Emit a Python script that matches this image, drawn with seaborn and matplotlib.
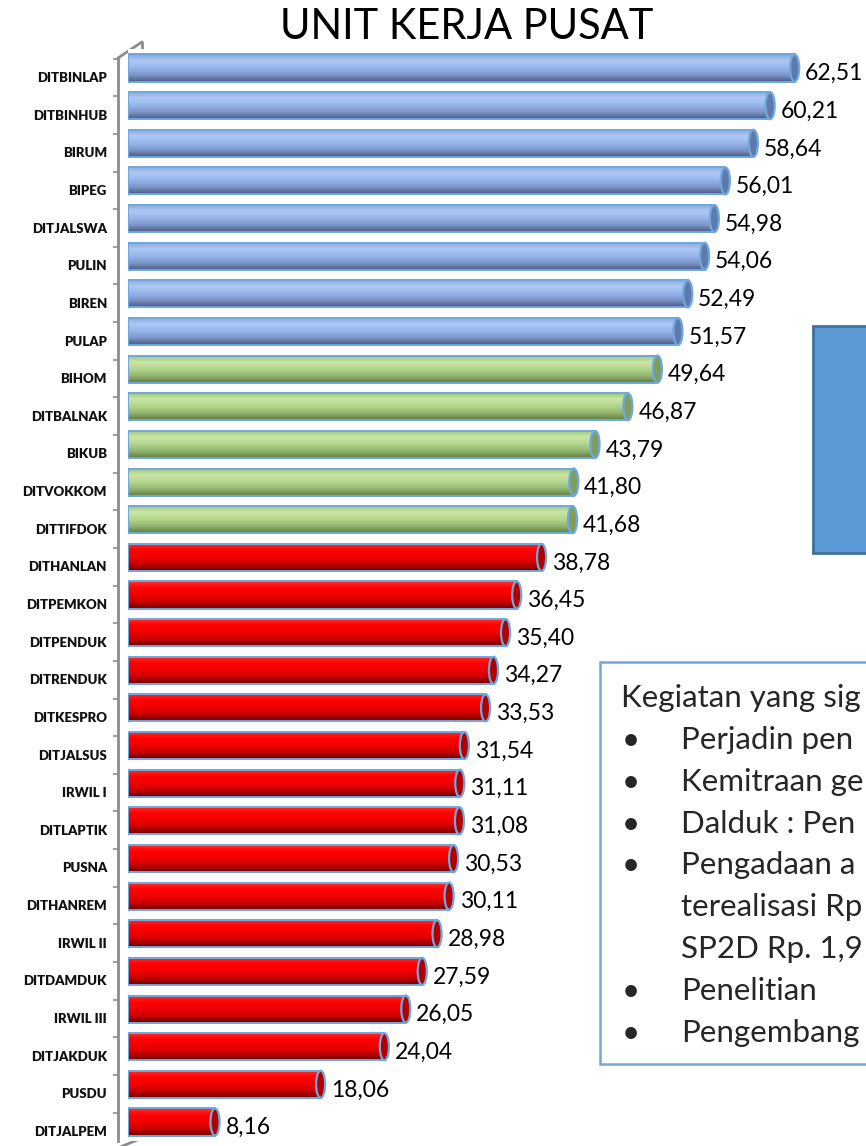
import matplotlib
matplotlib.use('Agg')
import matplotlib.pyplot as plt
import matplotlib.transforms as mtransforms
from matplotlib.colors import LinearSegmentedColormap
from matplotlib.patches import Ellipse, Rectangle
from matplotlib.lines import Line2D
import seaborn as sns
import pandas as pd
import numpy as np

# data
units = ['DITBINLAP', 'DITBINHUB', 'BIRUM', 'BIPEG', 'DITJALSWA', 'PULIN', 'BIREN', 'PULAP',
         'BIHOM', 'DITBALNAK', 'BIKUB', 'DITVOKKOM', 'DITTIFDOK',
         'DITHANLAN', 'DITPEMKON', 'DITPENDUK', 'DITRENDUK', 'DITKESPRO', 'DITJALSUS',
         'IRWIL I', 'DITLAPTIK', 'PUSNA', 'DITHANREM', 'IRWIL II', 'DITDAMDUK',
         'IRWIL III', 'DITJAKDUK', 'PUSDU', 'DITJALPEM']
values = [62.51, 60.21, 58.64, 56.01, 54.98, 54.06, 52.49, 51.57,
          49.64, 46.87, 43.79, 41.80, 41.68,
          38.78, 36.45, 35.40, 34.27, 33.53, 31.54,
          31.11, 31.08, 30.53, 30.11, 28.98, 27.59,
          26.05, 24.04, 18.06, 8.16]
groups = ['blue'] * 8 + ['green'] * 5 + ['red'] * 16

title = 'UNIT KERJA PUSAT'
note_title = 'Kegiatan yang sig'
note_items = ['Perjadin pen', 'Kemitraan ge', 'Dalduk : Pen', 'Pengadaan a',
              'terealisasi Rp', 'SP2D Rp. 1,9', 'Penelitian', 'Pengembang']
note_bullets = [True, True, True, True, False, False, True, True]

df = pd.DataFrame({'unit': units, 'value': values, 'group': groups})

base = {'blue': '#95B3E7', 'green': '#B3D68E', 'red': '#FF0000'}
ramps = {
    'blue': ['#86A6DA', '#AFC9F5', '#97B5EA', '#7D96C9', '#4B5A86'],
    'green': ['#9DC477', '#C9E6A7', '#B3D68E', '#94B572', '#5F7D3F'],
    'red': ['#FF3030', '#FF0000', '#F20000', '#C80000', '#6E0000'],
}
caps = {'blue': '#5F78AE', 'green': '#7F9E5D', 'red': '#B00000'}
outline = '#6FA8DC'

W, H = 866, 1146
sns.set_theme(style='white')
plt.rcParams['font.family'] = ['Lato', 'DejaVu Sans']

fig = plt.figure(figsize=(W / 100, H / 100), dpi=100)
ax = fig.add_axes([128 / W, 1 - 1140.8 / H, (W - 128) / W, (1140.8 - 49.2) / H])

sns.barplot(data=df, x='value', y='unit', hue='group', palette=base,
            dodge=False, legend=False, width=0.72, orient='h', ax=ax)

# cylinder look: vertical gradient clipped to each bar + end caps
grad = np.linspace(0, 1, 80).reshape(-1, 1)
bars = [p for p in ax.patches if isinstance(p, Rectangle) and p.get_width() > 0]
for p in bars:
    x0, y0, w, h = p.get_x(), p.get_y(), p.get_width(), p.get_height()
    g = groups[int(round(y0 + h / 2))]
    cmap = LinearSegmentedColormap.from_list(g, ramps[g])
    im = ax.imshow(grad, cmap=cmap, aspect='auto', origin='upper',
                   extent=(x0, x0 + w, y0 + h, y0), zorder=2, interpolation='bilinear')
    im.set_clip_path(p)
    p.set_facecolor('none')
    p.set_edgecolor(outline)
    p.set_linewidth(1.4)
    p.set_zorder(3)
    ax.add_patch(Ellipse((x0 + w, y0 + h / 2), 0.85, h, facecolor=caps[g],
                         edgecolor=outline, linewidth=1.6, zorder=4))
    ax.add_patch(Ellipse((x0, y0 + h / 2), 0.85, h, facecolor=ramps[g][1],
                         edgecolor=outline, linewidth=1.4, zorder=1))

for i, v in enumerate(values):
    ax.annotate(f'{v:.2f}'.replace('.', ','), xy=(v, i), xytext=(7.5, -4),
                textcoords='offset points', ha='left', va='center',
                fontsize=16.5, color='black', zorder=5)

ax.set_xlim(0, 69.2)
ax.set_ylim(len(units) - 0.5, -0.5)
ax.set_xlabel('')
ax.set_ylabel('')
ax.set_xticks([])
for s in ['top', 'right', 'bottom']:
    ax.spines[s].set_visible(False)
ax.spines['left'].set_color('#8C8C8C')
ax.spines['left'].set_linewidth(2)
ax.spines['left'].set_position(('outward', 7.2))
ax.spines['left'].set_bounds(-0.25, len(units) - 0.5)
ax.set_yticks(np.arange(len(units)) - 0.25, minor=True)
ax.tick_params(axis='y', which='minor', length=3.6, width=1.2, color='#8C8C8C', left=True)
ax.tick_params(axis='y', which='major', length=0, pad=8)
for lab in ax.get_yticklabels():
    lab.set_fontsize(9.5)
    lab.set_fontweight('heavy')
    lab.set_color('#111111')
    lab.set_transform(lab.get_transform() + mtransforms.ScaledTranslation(0, -9 / 100, fig.dpi_scale_trans))

# back wall of the 3d frame
def fx(px):
    return px / W

def fy(py):
    return 1 - py / H

wall = dict(color='#8C8C8C', linewidth=2, transform=fig.transFigure, zorder=0)
fig.add_artist(Line2D([fx(142), fx(142)], [fy(42), fy(1138)], **wall))
fig.add_artist(Line2D([fx(118), fx(142)], [fy(58), fy(42)], **wall))
fig.add_artist(Line2D([fx(118), fx(142)], [fy(1148), fy(1138)], **wall))

fig.text(fx(467), fy(27), title, ha='center', va='center', fontsize=30, color='black')

# blue box on the right
fig.add_artist(Rectangle((fx(813), fy(553)), fx(80), (553 - 326) / H,
                         transform=fig.transFigure, facecolor='#5B9BD5',
                         edgecolor='#41719C', linewidth=2, zorder=6))

# note box
fig.add_artist(Rectangle((fx(600), fy(1064)), fx(300), (1064 - 662) / H,
                         transform=fig.transFigure, facecolor='white',
                         edgecolor='#6FA8DC', linewidth=1.8, zorder=6))
fig.text(fx(621), fy(707), note_title, ha='left', va='baseline', fontsize=22.5, zorder=7)
for k, (txt, b) in enumerate(zip(note_items, note_bullets)):
    yb = 749 + 41.8 * k
    if b:
        fig.text(fx(622), fy(yb), '\u2022', ha='left', va='baseline', fontsize=22.5, zorder=7)
    fig.text(fx(681), fy(yb), txt, ha='left', va='baseline', fontsize=22.5, zorder=7)

fig.savefig('out.png', dpi=100)
